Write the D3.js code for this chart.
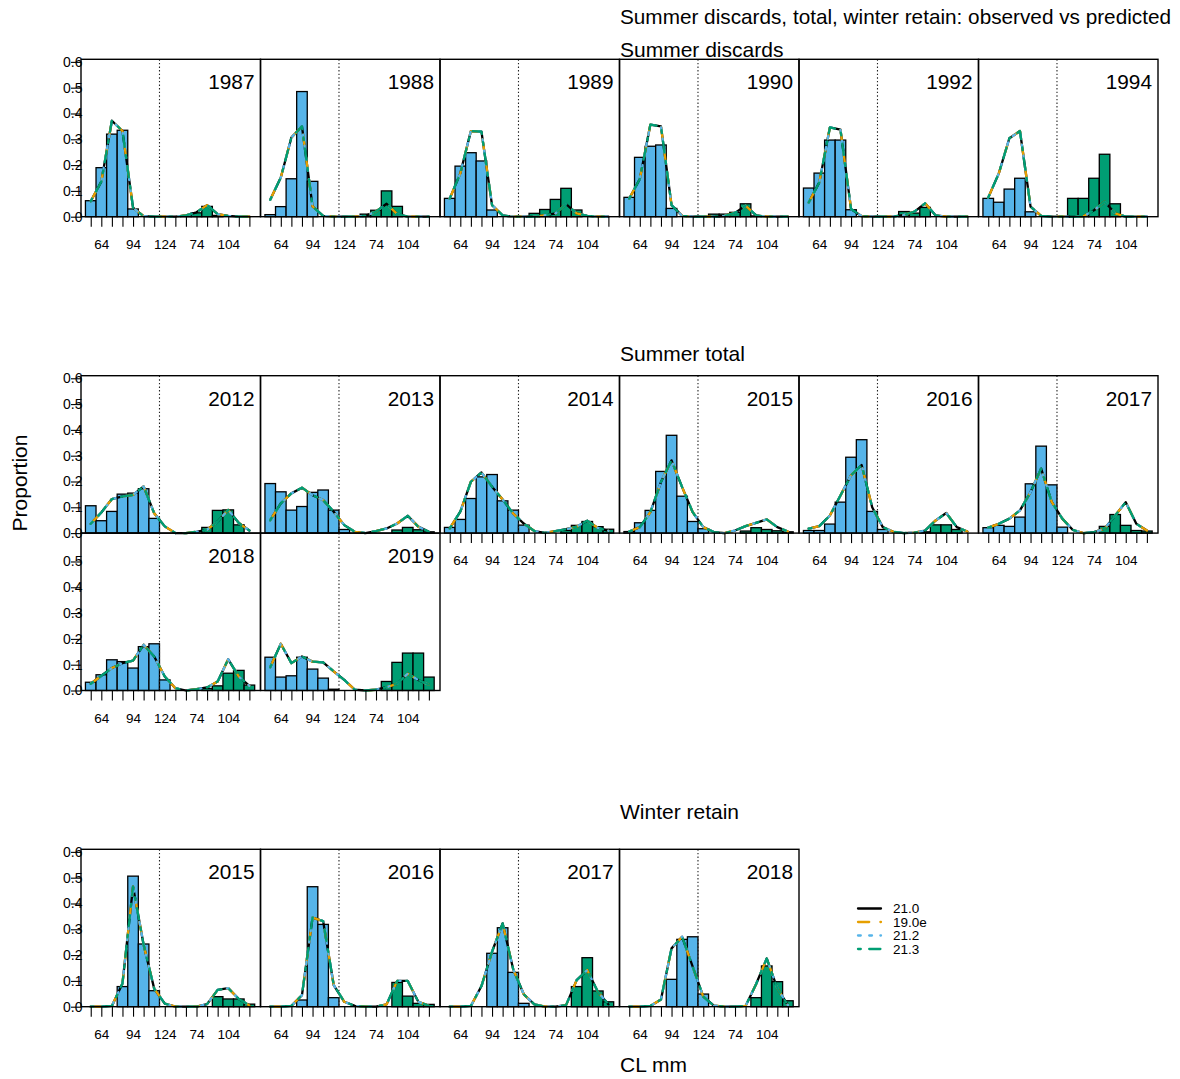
<!DOCTYPE html>
<html><head><meta charset="utf-8">
<script src="https://cdn.jsdelivr.net/npm/d3@7"></script>
<style>
body{margin:0;background:#fff;}
svg{display:block;font-family:"Liberation Sans",Arial,Helvetica,sans-serif;}
</style></head><body>
<svg id="chart" width="1180" height="1079"></svg>
<script>
// ---------- data ----------
const lengthBins = [54,64,74,84,94,104,114,124];      // CL mm bins (same for each sex)
const maleShift = 80;                                  // males plotted after females
const sexBoundary = 119;                               // dotted separator
const tickLabelValues = [64,94,124,154,184];
const tickLabelText = ["64","94","124","74","104"];
const models = ["21.0","19.0e","21.2","21.3"];

// each row: 8 female bins then 8 male bins
const sdYears = [1987,1988,1989,1990,1992,1994];
const sdObs = [
 [0.062,0.19,0.32,0.335,0.03,0,0,0, 0,0.003,0.015,0.04,0.005,0,0,0],
 [0.008,0.039,0.147,0.485,0.137,0,0,0, 0,0.01,0.025,0.1,0.04,0,0,0],
 [0.071,0.196,0.248,0.216,0.026,0,0,0, 0.013,0.028,0.067,0.11,0.026,0,0,0],
 [0.075,0.23,0.273,0.278,0.032,0,0,0, 0.01,0.01,0.017,0.05,0.003,0,0,0],
 [0.111,0.169,0.297,0.297,0.027,0,0,0, 0,0.02,0.014,0.036,0,0,0,0],
 [0.071,0.056,0.107,0.149,0.019,0,0,0, 0.071,0.071,0.149,0.242,0.05,0,0,0]
];
const sdPred = [
 [0.06,0.136,0.372,0.332,0.035,0.002,0,0, 0,0.005,0.017,0.045,0.01,0.003,0,0],
 [0.066,0.152,0.307,0.35,0.04,0.003,0,0, 0,0.003,0.02,0.05,0.01,0,0,0],
 [0.07,0.168,0.332,0.33,0.045,0.005,0,0, 0,0.005,0.013,0.049,0.013,0.003,0,0],
 [0.07,0.146,0.357,0.35,0.045,0.003,0,0, 0,0.003,0.015,0.043,0.005,0,0,0],
 [0.055,0.133,0.346,0.337,0.03,0.002,0,0, 0,0.007,0.02,0.052,0.005,0,0,0],
 [0.074,0.168,0.304,0.332,0.039,0.003,0,0, 0,0.002,0.025,0.058,0.013,0,0,0]
];

const stYears = [2012,2013,2014,2015,2016,2017,2018,2019];
const stObs = [
 [0.106,0.048,0.084,0.151,0.155,0.172,0.057,0, 0,0,0,0.022,0.088,0.09,0.032,0],
 [0.192,0.16,0.089,0.103,0.158,0.167,0.089,0.014, 0,0,0,0,0.012,0.022,0.013,0.005],
 [0.022,0.053,0.134,0.218,0.227,0.125,0.089,0.031, 0,0,0,0.01,0.03,0.045,0.025,0.015],
 [0.006,0.04,0.088,0.239,0.379,0.143,0.045,0.017, 0,0,0,0.008,0.021,0.014,0.009,0.005],
 [0.01,0.01,0.035,0.12,0.294,0.362,0.084,0.014, 0,0,0,0.005,0.032,0.032,0.014,0],
 [0.021,0.03,0.026,0.062,0.191,0.337,0.187,0.023, 0,0,0,0.026,0.072,0.03,0.01,0.008],
 [0.032,0.061,0.119,0.112,0.087,0.17,0.181,0.041, 0,0,0,0.008,0.018,0.067,0.078,0.021],
 [0.129,0.052,0.057,0.129,0.083,0.048,0.005,0, 0,0,0,0.035,0.109,0.145,0.145,0.052]
];
const stPred = [
 [0.036,0.08,0.132,0.142,0.148,0.181,0.077,0.026, 0,0,0.005,0.013,0.045,0.09,0.039,0.01],
 [0.05,0.115,0.154,0.176,0.147,0.128,0.083,0.031, 0.005,0,0.008,0.018,0.037,0.067,0.025,0.005],
 [0.018,0.083,0.199,0.235,0.18,0.13,0.076,0.037, 0.008,0.001,0.008,0.015,0.025,0.048,0.02,0.009],
 [0.006,0.023,0.081,0.198,0.282,0.178,0.081,0.023, 0.004,0,0.01,0.027,0.04,0.053,0.023,0.006],
 [0.017,0.027,0.068,0.146,0.224,0.264,0.1,0.023, 0.005,0,0.002,0.01,0.049,0.078,0.023,0.006],
 [0.021,0.036,0.056,0.088,0.159,0.25,0.121,0.056, 0.012,0,0.004,0.017,0.068,0.12,0.036,0.01],
 [0.026,0.057,0.087,0.106,0.116,0.177,0.132,0.054, 0.009,0,0.005,0.012,0.035,0.121,0.054,0.018],
 [0.09,0.181,0.106,0.132,0.112,0.109,0.074,0.041, 0.003,0,0.003,0.013,0.026,0.065,0.041,0.022]
];

const wrYears = [2015,2016,2017,2018];
const wrObs = [
 [0,0,0,0.078,0.506,0.243,0.062,0, 0,0,0,0,0.039,0.03,0.03,0.01],
 [0,0,0,0.026,0.465,0.319,0.035,0, 0,0,0,0,0.094,0.041,0.013,0.009],
 [0,0,0,0,0.207,0.306,0.133,0.013, 0,0,0,0,0.078,0.19,0.061,0.019],
 [0,0,0,0,0.106,0.261,0.271,0.049, 0,0,0,0,0.035,0.158,0.097,0.023]
];
const wrPred = [
 [0,0,0.003,0.09,0.465,0.24,0.07,0.012, 0,0,0,0.01,0.065,0.072,0.03,0.005],
 [0,0,0.003,0.045,0.345,0.332,0.084,0.019, 0.003,0,0,0.009,0.1,0.1,0.019,0.003],
 [0,0,0.003,0.08,0.213,0.323,0.145,0.048, 0.009,0,0,0.006,0.103,0.142,0.058,0.009],
 [0,0,0.003,0.028,0.226,0.271,0.155,0.039, 0.004,0,0,0.003,0.088,0.187,0.071,0.006]
];

// ---------- styles / layout ----------
const modelColors = ["#000000","#E69F00","#56B4E9","#009E73"];
const u = 2.8;
const modelDash = [null, [4*u,4*u], [1*u,3*u], [1*u,3*u,4*u,3*u]];
const femaleFill = "#56B4E9", maleFill = "#009E73";
const XFONT = 13.5, YFONT = 14, BIGFONT = 21, TOPFONT = 20.8, YEARFONT = 20.8;

const svg = d3.select("#chart");
const panelW = 179.5, panelH = 157.4, left0 = 81, ncol = 6;

const xs = lengthBins.concat(lengthBins.map(b => b + maleShift));
const allTicks = d3.range(54, 205, 10);
const x = d3.scaleLinear().domain([44.8, 214.5]).range([0, panelW]);
const y = d3.scaleLinear().domain([0, 0.61]).range([panelH, 0]);
const labelMap = new Map(tickLabelValues.map((v,i)=>[v, tickLabelText[i]]));

const groups = [
 {title:"Summer discards", years:sdYears, obs:sdObs, pred:sdPred, top:59.3, titleY:56.5},
 {title:"Summer total", years:stYears, obs:stObs, pred:stPred, top:375.7, titleY:360.5},
 {title:"Winter retain", years:wrYears, obs:wrObs, pred:wrPred, top:849.3, titleY:818.5}
];

svg.append("text").attr("x",620).attr("y",24).attr("font-size",TOPFONT)
  .attr("textLength",551).attr("lengthAdjust","spacingAndGlyphs")
  .text("Summer discards, total, winter retain: observed vs predicted");

const line = d3.line().x((d,i)=>x(xs[i])).y(d=>y(d));

groups.forEach(g => {
  svg.append("text").attr("x",620).attr("y",g.titleY).attr("font-size",BIGFONT).text(g.title);
  const n = g.years.length;
  g.years.forEach((yr, k) => {
    const row = Math.floor(k / ncol), col = k % ncol;
    const px = left0 + col * panelW, py = g.top + row * panelH;
    const p = svg.append("g").attr("transform", `translate(${px},${py})`);
    // bars
    const obs = g.obs[k];
    p.selectAll("rect.bar").data(obs.map((v,i)=>({v,i})).filter(d=>d.v>0)).enter()
      .append("rect")
      .attr("x", d => x(xs[d.i]-5)).attr("width", d => x(xs[d.i]+5)-x(xs[d.i]-5))
      .attr("y", d => y(d.v)).attr("height", d => y(0)-y(d.v))
      .attr("fill", d => d.i < 8 ? femaleFill : maleFill)
      .attr("stroke","#000").attr("stroke-width",1.3);
    // separator
    p.append("line").attr("x1",x(sexBoundary)).attr("x2",x(sexBoundary))
      .attr("y1",0).attr("y2",panelH).attr("stroke","#222").attr("stroke-width",1.1)
      .attr("stroke-dasharray","1.4,2.2");
    // model lines
    models.forEach((m, mi) => {
      p.append("path").datum(g.pred[k]).attr("d", line)
        .attr("fill","none").attr("stroke", modelColors[mi]).attr("stroke-width",2.3)
        .attr("stroke-linecap","round").attr("stroke-linejoin","round")
        .attr("stroke-dasharray", modelDash[mi] ? modelDash[mi].join(",") : null);
    });
    // frame
    p.append("rect").attr("x",0).attr("y",0).attr("width",panelW).attr("height",panelH)
      .attr("fill","none").attr("stroke","#000").attr("stroke-width",1.4);
    // year label
    p.append("text").attr("x",panelW-6).attr("y",30).attr("text-anchor","end")
      .attr("font-size",YEARFONT).text(yr);
    // y axis
    if (col === 0) {
      const tv = row === 0 ? [0,0.1,0.2,0.3,0.4,0.5,0.6] : [0,0.1,0.2,0.3,0.4,0.5];
      const ax = p.append("g").call(d3.axisLeft(y).tickValues(tv).tickSize(10)
        .tickPadding(-11.5).tickFormat(d3.format(".1f")));
      ax.select(".domain").remove();
      ax.selectAll("text").attr("font-size",YFONT).attr("font-family",null).attr("fill","#000");
      ax.selectAll("line").attr("stroke","#000").attr("stroke-width",1.1);
    }
    // x axis where no panel below
    const below = k + ncol < n;
    if (!below) {
      const ax = p.append("g").attr("transform",`translate(0,${panelH})`)
        .call(d3.axisBottom(x).tickValues(allTicks).tickSize(10).tickPadding(12.5)
          .tickFormat(d => labelMap.has(d) ? labelMap.get(d) : ""));
      ax.select(".domain").remove();
      ax.selectAll("text").attr("font-size",XFONT).attr("font-family",null).attr("fill","#000");
      ax.selectAll("line").attr("stroke","#000").attr("stroke-width",1.1);
    }
  });
});

// axis titles
svg.append("text").attr("transform","translate(27,483) rotate(-90)").attr("text-anchor","middle")
  .attr("font-size",BIGFONT).text("Proportion");
svg.append("text").attr("x",620).attr("y",1072).attr("font-size",BIGFONT).text("CL mm");

// legend
const lg = svg.append("g");
models.forEach((m, mi) => {
  const ly = 908.5 + mi * 13.5;
  lg.append("line").attr("x1",858).attr("x2",881).attr("y1",ly).attr("y2",ly)
    .attr("stroke",modelColors[mi]).attr("stroke-width",2.3).attr("stroke-linecap","round")
    .attr("stroke-dasharray", modelDash[mi] ? modelDash[mi].join(",") : null);
  lg.append("text").attr("x",893).attr("y",ly+4.8).attr("font-size",13.5).text(m);
});
</script>
</body></html>
